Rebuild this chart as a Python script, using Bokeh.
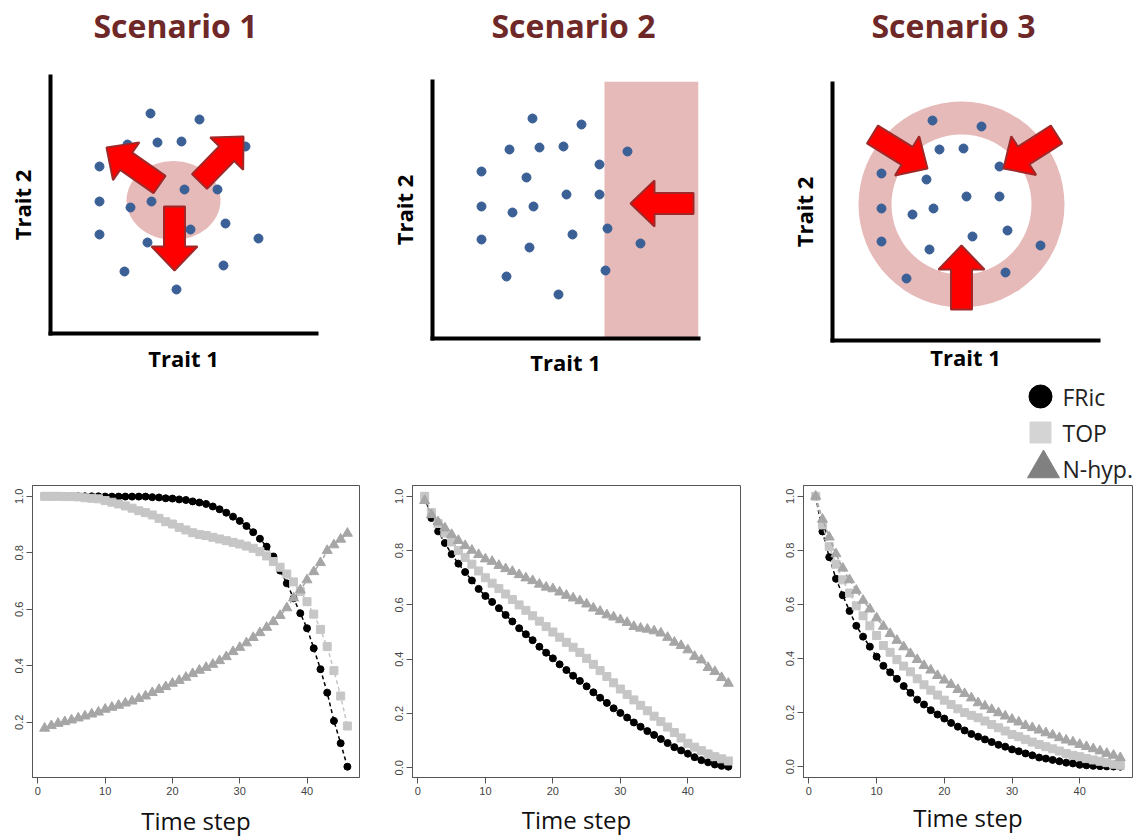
import math
from bokeh.plotting import figure
from bokeh.layouts import row, column
from bokeh.models import Range1d, FixedTicker, PrintfTickFormatter, Spacer
from bokeh.core.properties import value
from bokeh.embed import file_html
from bokeh.resources import INLINE

# ---------------- data ----------------
time_step = list(range(1, 47))

fric_s1 = [1.0, 1.0, 1.0, 1.0, 1.0, 1.0, 1.0, 1.0, 1.0, 0.999,
           0.999, 0.999, 0.999, 0.999, 0.999, 0.999, 0.997, 0.996, 0.993, 0.992,
           0.989, 0.987, 0.982, 0.978, 0.973, 0.964, 0.954, 0.942, 0.928, 0.913,
           0.895, 0.873, 0.850, 0.822, 0.787, 0.737, 0.692, 0.639, 0.586, 0.533,
           0.462, 0.388, 0.305, 0.205, 0.126, 0.043]
top_s1 = [1.0, 1.0, 1.0, 0.999, 0.999, 0.998, 0.995, 0.993, 0.991, 0.985,
          0.979, 0.973, 0.966, 0.958, 0.949, 0.942, 0.934, 0.922, 0.910, 0.902,
          0.890, 0.881, 0.871, 0.865, 0.861, 0.855, 0.849, 0.843, 0.837, 0.831,
          0.824, 0.816, 0.804, 0.789, 0.769, 0.749, 0.725, 0.697, 0.663, 0.627,
          0.583, 0.529, 0.468, 0.383, 0.293, 0.187]
nhyp_s1 = [0.179, 0.188, 0.196, 0.202, 0.208, 0.215, 0.222, 0.229, 0.236, 0.246,
           0.253, 0.260, 0.268, 0.275, 0.284, 0.293, 0.305, 0.316, 0.326, 0.338,
           0.348, 0.359, 0.372, 0.384, 0.394, 0.405, 0.418, 0.432, 0.450, 0.465,
           0.481, 0.500, 0.517, 0.536, 0.556, 0.578, 0.605, 0.640, 0.668, 0.704,
           0.733, 0.765, 0.808, 0.828, 0.848, 0.869]

fric_s2 = [1.0, 0.920, 0.871, 0.828, 0.787, 0.752, 0.721, 0.690, 0.659, 0.633,
           0.611, 0.588, 0.563, 0.539, 0.514, 0.492, 0.470, 0.446, 0.424, 0.403,
           0.381, 0.360, 0.339, 0.320, 0.300, 0.278, 0.258, 0.239, 0.219, 0.202,
           0.185, 0.167, 0.151, 0.135, 0.121, 0.106, 0.091, 0.076, 0.064, 0.052,
           0.039, 0.028, 0.020, 0.012, 0.007, 0.004]
top_s2 = [1.0, 0.940, 0.900, 0.865, 0.832, 0.800, 0.775, 0.750, 0.725, 0.700,
          0.680, 0.660, 0.640, 0.620, 0.600, 0.580, 0.560, 0.540, 0.520, 0.500,
          0.481, 0.462, 0.444, 0.425, 0.403, 0.381, 0.358, 0.336, 0.313, 0.290,
          0.270, 0.250, 0.230, 0.210, 0.190, 0.170, 0.150, 0.130, 0.110, 0.090,
          0.076, 0.063, 0.051, 0.041, 0.033, 0.025]
nhyp_s2 = [0.984, 0.932, 0.905, 0.883, 0.859, 0.837, 0.818, 0.801, 0.785, 0.769,
           0.760, 0.745, 0.733, 0.723, 0.711, 0.699, 0.689, 0.676, 0.665, 0.659,
           0.647, 0.635, 0.625, 0.615, 0.603, 0.588, 0.576, 0.563, 0.555, 0.545,
           0.535, 0.520, 0.514, 0.510, 0.504, 0.496, 0.480, 0.462, 0.450, 0.434,
           0.410, 0.397, 0.369, 0.354, 0.332, 0.311]

fric_s3 = [1.0, 0.870, 0.775, 0.695, 0.634, 0.576, 0.521, 0.481, 0.444, 0.407,
           0.373, 0.349, 0.325, 0.298, 0.273, 0.248, 0.230, 0.209, 0.193, 0.178,
           0.162, 0.148, 0.134, 0.121, 0.111, 0.101, 0.091, 0.081, 0.074, 0.064,
           0.057, 0.049, 0.042, 0.034, 0.030, 0.025, 0.020, 0.015, 0.012, 0.007,
           0.005, 0.003, 0.002, 0.001, 0.0005, 0.0]
top_s3 = [1.0, 0.894, 0.814, 0.749, 0.691, 0.642, 0.595, 0.558, 0.521, 0.485,
          0.448, 0.423, 0.396, 0.372, 0.351, 0.325, 0.303, 0.283, 0.265, 0.246,
          0.230, 0.214, 0.200, 0.190, 0.181, 0.169, 0.156, 0.144, 0.132, 0.119,
          0.111, 0.101, 0.091, 0.082, 0.074, 0.066, 0.058, 0.049, 0.042, 0.037,
          0.030, 0.025, 0.020, 0.015, 0.009, 0.005]
nhyp_s3 = [1.0, 0.915, 0.849, 0.787, 0.734, 0.691, 0.652, 0.615, 0.583, 0.550,
           0.519, 0.492, 0.467, 0.443, 0.418, 0.396, 0.374, 0.357, 0.337, 0.320,
           0.304, 0.285, 0.270, 0.254, 0.236, 0.224, 0.211, 0.199, 0.187, 0.175,
           0.165, 0.152, 0.144, 0.135, 0.125, 0.117, 0.107, 0.098, 0.091, 0.082,
           0.074, 0.066, 0.058, 0.049, 0.042, 0.033]

scenario_titles = ["Scenario 1", "Scenario 2", "Scenario 3"]
legend_labels = ["FRic", "TOP", "N-hyp."]
x_ticks = [0, 10, 20, 30, 40]
y_ticks = [0.0, 0.2, 0.4, 0.6, 0.8, 1.0]

# schematic trait space (same species in every scenario)
trait1 = [100, 149, 77, 107, 131, 195, 167, 49, 94, 134, 167,
          49, 101, 80, 175, 140, 49, 97, 208, 173, 74, 126]
trait2 = [220, 214, 189, 191, 192, 187, 174, 167, 161, 144, 144,
          132, 132, 126, 110, 104, 99, 91, 95, 68, 62, 44]
trait1_max = 266
trait2_max = 257

# filtering zones
s1_zone_x, s1_zone_y, s1_zone_w, s1_zone_h = [123], [133], [94], [79]
s2_zone_left, s2_zone_right, s2_zone_bottom, s2_zone_top = [172], [266], [0], [257]
s3_zone_x, s3_zone_y, s3_zone_inner, s3_zone_outer = [129], [136], [70], [103]

# arrows (tail -> tip) in trait space
s1_arrow_tail_x, s1_arrow_tail_y = [109, 149, 124], [149, 152, 127]
s1_arrow_tip_x, s1_arrow_tip_y = [56, 193, 124], [186, 197, 63]
s2_arrow_tail_x, s2_arrow_tail_y = [261], [135]
s2_arrow_tip_x, s2_arrow_tip_y = [198], [135]
s3_arrow_tail_x, s3_arrow_tail_y = [40, 224, 129], [206, 206, 31]
s3_arrow_tip_x, s3_arrow_tip_y = [95, 171, 129], [172, 172, 95]

# ---------------- styles / layout ----------------
TITLE_COLOR = "#6e2828"
DOT_COLOR = "#3b6096"
ZONE_COLOR = "#e7baba"
ARROW_FILL = "#ff0000"
ARROW_LINE = "#a02828"
FRIC_COLOR = "#000000"
TOP_COLOR = "#c6c6c6"
NHYP_COLOR = "#a6a6a6"
AXIS_GREY = "#555555"
TITLE_H = 50
SCHEM_H = 327          # height of each schematic figure
LEG_H = 106
BOTTOM_TOP = 0
BOTTOM_FRAME_H = 292
BOTTOM_BORDER = 836 - (TITLE_H + SCHEM_H + LEG_H) - BOTTOM_TOP - BOTTOM_FRAME_H


def arrow_polygons(tx, ty, hx, hy, shaft=21.0, head_w=46.0, head_l=24.0):
    xs, ys = [], []
    for x0, y0, x1, y1 in zip(tx, ty, hx, hy):
        dx, dy = x1 - x0, y1 - y0
        L = math.hypot(dx, dy)
        ux, uy = dx / L, dy / L
        px, py = -uy, ux
        bx, by = x1 - ux * head_l, y1 - uy * head_l
        pts = [
            (x0 + px * shaft / 2, y0 + py * shaft / 2),
            (bx + px * shaft / 2, by + py * shaft / 2),
            (bx + px * head_w / 2, by + py * head_w / 2),
            (x1, y1),
            (bx - px * head_w / 2, by - py * head_w / 2),
            (bx - px * shaft / 2, by - py * shaft / 2),
            (x0 - px * shaft / 2, y0 - py * shaft / 2),
        ]
        xs.append([p[0] for p in pts])
        ys.append([p[1] for p in pts])
    return xs, ys


def title_panel(text, width, center_x):
    # placed in the same column as its schematic, so its frame lines up with it
    t = figure(width=width, height=TITLE_H, x_range=Range1d(0, trait1_max),
               y_range=Range1d(0, TITLE_H),
               x_axis_type=None, y_axis_type=None, output_backend="svg",
               toolbar_location=None, min_border=0)
    t.grid.visible = False
    t.outline_line_color = None
    t.text(x=[center_x], y=[TITLE_H / 2], text=[text], text_font=value("Open Sans"),
           text_font_size="32px", text_font_style="bold", text_color=TITLE_COLOR,
           text_align="center", text_baseline="middle")
    return t


def schematic(left, right, top, xlab_standoff):
    p = figure(frame_width=266, frame_height=257,
               x_range=Range1d(0, trait1_max), y_range=Range1d(0, trait2_max),
               output_backend="svg", toolbar_location=None,
               min_border_left=left, min_border_right=right,
               min_border_top=top, min_border_bottom=SCHEM_H - top - 257)
    p.grid.visible = False
    p.outline_line_color = None
    for ax in (p.xaxis[0], p.yaxis[0]):
        ax.ticker = FixedTicker(ticks=[])
        ax.major_tick_out = 0
        ax.major_tick_in = 0
        ax.minor_tick_out = 0
        ax.minor_tick_in = 0
        ax.major_label_standoff = 0
        ax.axis_line_width = 4
        ax.axis_line_color = "black"
        ax.axis_line_cap = "square"
        ax.axis_label_text_font = "Open Sans"
        ax.axis_label_text_font_style = "bold"
        ax.axis_label_text_font_size = "22px"
        ax.axis_label_text_color = "black"
    p.xaxis.axis_label = "Trait 1"
    p.yaxis.axis_label = "Trait 2"
    p.xaxis.axis_label_standoff = xlab_standoff
    p.yaxis.axis_label_standoff = 14
    return p


def add_species_and_arrows(p, tx, ty, hx, hy):
    p.scatter(trait1, trait2, size=9, fill_color=DOT_COLOR, line_color=DOT_COLOR)
    xs, ys = arrow_polygons(tx, ty, hx, hy)
    p.patches(xs, ys, fill_color=ARROW_FILL, line_color=ARROW_LINE, line_width=2)


# Scenario 1
t1 = title_panel(scenario_titles[0], 380, 125)
s1 = schematic(50, 64, 26, 9)
s1.ellipse(x=s1_zone_x, y=s1_zone_y, width=s1_zone_w, height=s1_zone_h,
           fill_color=ZONE_COLOR, line_color=None)
add_species_and_arrows(s1, s1_arrow_tail_x, s1_arrow_tail_y, s1_arrow_tip_x, s1_arrow_tip_y)

# Scenario 2
t2 = title_panel(scenario_titles[1], 380, 141)
s2 = schematic(52, 62, 31, 8)
s2.quad(left=s2_zone_left, right=s2_zone_right, bottom=s2_zone_bottom, top=s2_zone_top,
        fill_color=ZONE_COLOR, line_color=None)
add_species_and_arrows(s2, s2_arrow_tail_x, s2_arrow_tail_y, s2_arrow_tip_x, s2_arrow_tip_y)

# Scenario 3
t3 = title_panel(scenario_titles[2], 388, 121)
s3 = schematic(72, 50, 33, 1)
s3.annulus(x=s3_zone_x, y=s3_zone_y, inner_radius=s3_zone_inner, outer_radius=s3_zone_outer,
           fill_color=ZONE_COLOR, line_color=None)
add_species_and_arrows(s3, s3_arrow_tail_x, s3_arrow_tail_y, s3_arrow_tip_x, s3_arrow_tip_y)

# Legend panel
LEG_W = 388
ITEM_STEP = 36
ITEM0 = 17
leg_idx = [0, 1, 2]
leg = figure(width=LEG_W, height=LEG_H, x_range=Range1d(0, LEG_W),
             y_range=Range1d((LEG_H - ITEM0) / ITEM_STEP, -ITEM0 / ITEM_STEP),
             x_axis_type=None, y_axis_type=None, output_backend="svg", toolbar_location=None,
             min_border=0)
leg.grid.visible = False
leg.outline_line_color = None
MARK_X = 280
TEXT_X = 302
leg.scatter([MARK_X], [leg_idx[0]], marker="circle", size=23, fill_color=FRIC_COLOR, line_color=FRIC_COLOR)
leg.scatter([MARK_X], [leg_idx[1]], marker="square", size=21, fill_color="#d4d4d4", line_color="#d4d4d4")
leg.scatter([MARK_X + 3], [leg_idx[2]], marker="triangle", size=32, fill_color="#808080", line_color="#808080")
leg.text(x=[TEXT_X] * 3, y=leg_idx, text=legend_labels, text_font=value("Open Sans"),
         text_font_size="23px", text_baseline="middle", text_align="left", text_color="#222222")


def series_plot(fric, top, nhyp, left, right, frame_w, label_standoff):
    vals = fric + top + nhyp
    lo, hi = min(vals), max(vals)
    ypad = 0.04 * (hi - lo)
    xlo, xhi = min(time_step), max(time_step)
    xpad = 0.04 * (xhi - xlo)
    p = figure(frame_width=frame_w, frame_height=BOTTOM_FRAME_H,
               x_range=Range1d(xlo - xpad, xhi + xpad), y_range=Range1d(lo - ypad, hi + ypad),
               output_backend="svg", toolbar_location=None,
               min_border_left=left, min_border_right=right,
               min_border_top=BOTTOM_TOP, min_border_bottom=BOTTOM_BORDER)
    p.grid.visible = False
    p.outline_line_color = AXIS_GREY
    p.outline_line_width = 1
    p.xaxis.ticker = FixedTicker(ticks=x_ticks)
    p.yaxis.ticker = FixedTicker(ticks=y_ticks)
    p.yaxis.formatter = PrintfTickFormatter(format="%.1f")
    p.yaxis.major_label_orientation = "vertical"
    for ax in (p.xaxis[0], p.yaxis[0]):
        ax.axis_line_color = AXIS_GREY
        ax.major_tick_line_color = AXIS_GREY
        ax.major_tick_out = 6
        ax.major_tick_in = 0
        ax.minor_tick_out = 0
        ax.minor_tick_in = 0
        ax.major_label_standoff = 3
        ax.major_label_text_font = "Liberation Sans"
        ax.major_label_text_font_size = "11px"
        ax.major_label_text_color = "#444444"
    p.xaxis.axis_label = "Time step"
    p.xaxis.axis_label_text_font = "Open Sans"
    p.xaxis.axis_label_text_font_size = "24px"
    p.xaxis.axis_label_text_font_style = "normal"
    p.xaxis.axis_label_text_color = "#111111"
    p.xaxis.axis_label_standoff = label_standoff

    p.line(time_step, fric, line_color=FRIC_COLOR, line_dash="4 3", line_width=1.5)
    p.scatter(time_step, fric, marker="circle", size=7, fill_color=FRIC_COLOR, line_color=FRIC_COLOR)
    p.line(time_step, top, line_color=TOP_COLOR, line_dash="4 3", line_width=1.5)
    p.scatter(time_step, top, marker="square", size=8, fill_color=TOP_COLOR, line_color=TOP_COLOR)
    p.line(time_step, nhyp, line_color=NHYP_COLOR, line_dash="4 3", line_width=1.5)
    p.scatter(time_step, nhyp, marker="triangle", size=10, fill_color=NHYP_COLOR, line_color=NHYP_COLOR)
    return p


b1 = series_plot(fric_s1, top_s1, nhyp_s1, 32, 21, 327, 6)
b2 = series_plot(fric_s2, top_s2, nhyp_s2, 32, 30, 328, 5)
b3 = series_plot(fric_s3, top_s3, nhyp_s3, 33, 16, 329, 3)

layout = column(
    row(column(t1, s1), column(t2, s2), column(t3, s3)),
    row(Spacer(width=1148 - LEG_W, height=LEG_H), leg),
    row(b1, b2, b3),
)

open("out.html", "w").write(file_html(layout, INLINE))
